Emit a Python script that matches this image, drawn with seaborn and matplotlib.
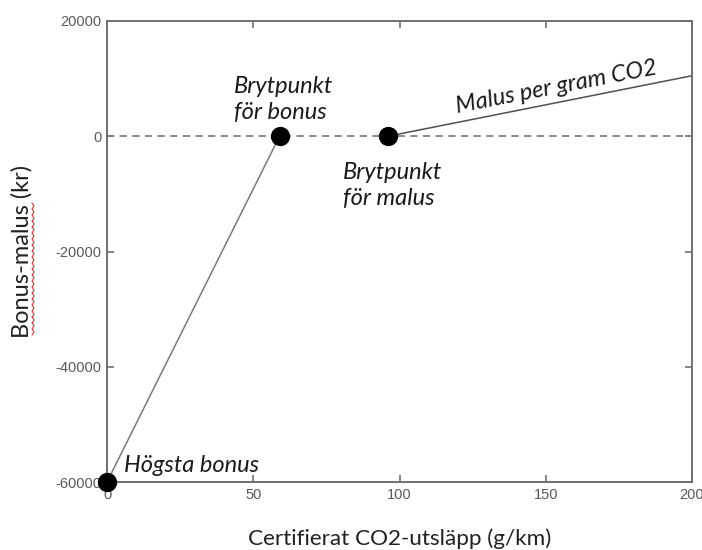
import matplotlib
matplotlib.use("Agg")
import matplotlib.pyplot as plt
import seaborn as sns
import pandas as pd
import numpy as np
from matplotlib.lines import Line2D

# Data
bonus_x = [0, 59]
bonus_y = [-60000, 0]
malus_x = [96, 200]
malus_y = [0, 10500]
point_x = [0, 59, 96]
point_y = [-60000, 0, 0]
x_ticks = [0, 50, 100, 150, 200]
y_ticks = [-60000, -40000, -20000, 0, 20000]

sns.set_theme(style="white")
plt.rcParams['font.family'] = ['Lato', 'DejaVu Sans']

W, H = 702, 550
fig = plt.figure(figsize=(W/100, H/100), dpi=100)
ax = fig.add_axes([107/W, 1-482/H, (692-107)/W, (482-21)/H])

ax.axhline(0, color="#808080", lw=1.3, ls=(0, (4, 3)), zorder=1)
sns.lineplot(x=bonus_x, y=bonus_y, ax=ax, color="#7a7a7a", lw=1.1, zorder=2)
sns.lineplot(x=malus_x, y=malus_y, ax=ax, color="#505050", lw=1.1, zorder=2)
sns.scatterplot(x=point_x, y=point_y, ax=ax, color="black", s=165, edgecolor="black",
                zorder=5, clip_on=False)

ax.set_xlim(0, 200)
ax.set_ylim(-60000, 20000)
ax.set_xticks(x_ticks)
ax.set_yticks(y_ticks)
ax.set_xticklabels([str(t) for t in x_ticks], family="Liberation Sans")
ax.set_yticklabels([str(t) for t in y_ticks], family="Liberation Sans")
ax.tick_params(axis="both", which="both", direction="in", length=5, width=1.2,
               color="#707070", labelcolor="#5a5a5a", labelsize=10.5,
               top=True, right=True, bottom=True, left=True, pad=4)
for s in ax.spines.values():
    s.set_color("#707070")
    s.set_linewidth(1.4)
    s.set_visible(True)

tkw = dict(style="italic", fontsize=17, color="#1a1a1a")
ax.text(43.5, 6300, "Brytpunkt\nför bonus", ha="left", va="center", linespacing=1.3, **tkw)
ax.text(80.8, -8600, "Brytpunkt\nför malus", ha="left", va="center", linespacing=1.3, **tkw)
ax.text(5.8, -57200, "Högsta bonus", ha="left", va="center", **tkw)
ax.text(153.8, 8500, "Malus per gram CO2", ha="center", va="center", rotation=11, **tkw)

ax.set_xlabel("Certifierat CO2-utsläpp (g/km)", fontsize=16.2, color="#222222")
ax.xaxis.set_label_coords(0.5, (482-528)/461)
ax.xaxis.label.set_va("top")
ax.set_ylabel("Bonus-malus (kr)", fontsize=17, color="#222222")
ax.yaxis.set_label_coords((33-107)/585, 0.5)

# spellcheck squiggle under "Bonus-malus"
n = 45
yy = np.linspace(1-335/H, 1-203/H, n)
xx = 33/W + np.where(np.arange(n) % 2 == 0, -1, 1)/W
fig.add_artist(Line2D(xx, yy, color="#e03030", lw=0.8, transform=fig.transFigure))

fig.savefig("out.png", dpi=100)
